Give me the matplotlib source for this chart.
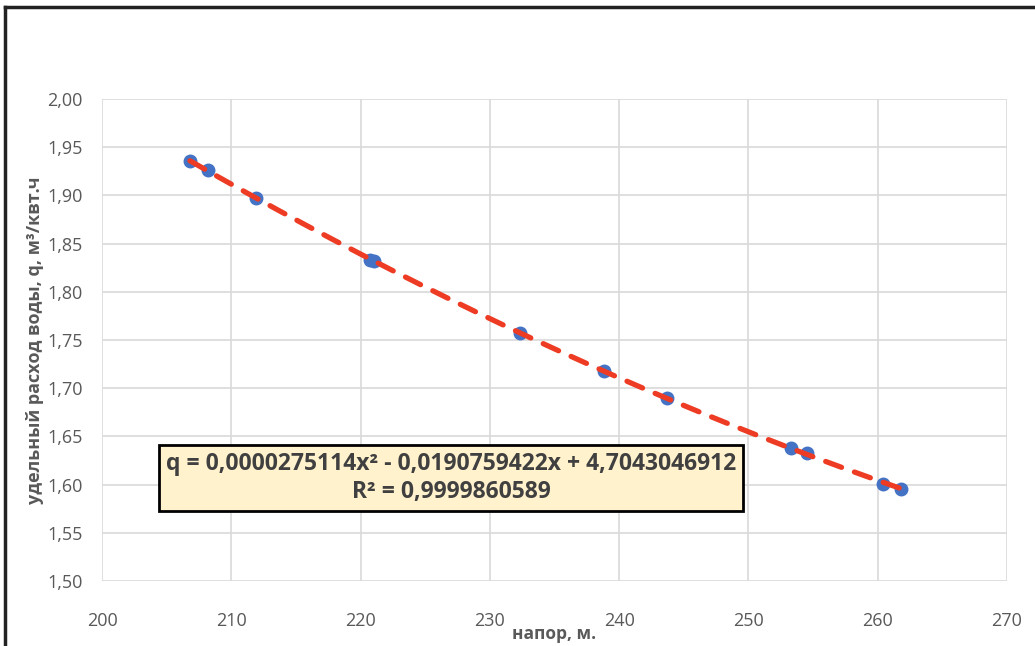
import matplotlib.pyplot as plt
import numpy as np

# measured points (head, m ; specific water flow, m3/kWh)
head = [206.8, 208.2, 211.9, 220.7, 221.0, 232.3, 238.8, 243.7, 253.3, 254.5, 260.4, 261.8]
flow = [1.936, 1.926, 1.897, 1.833, 1.832, 1.757, 1.718, 1.690, 1.638, 1.633, 1.601, 1.595]

# trendline coefficients as printed on the chart
coef = [0.0000275114, -0.0190759422, 4.7043046912]
r2_text = "0,9999860589"

x_ticks = list(range(200, 271, 10))
y_ticks = [1.50, 1.55, 1.60, 1.65, 1.70, 1.75, 1.80, 1.85, 1.90, 1.95, 2.00]

plt.rcParams['font.family'] = ['Open Sans', 'DejaVu Sans']

fig = plt.figure(figsize=(10.35, 6.46), dpi=100)
ax = fig.add_axes([0.0986, 0.1006, 0.8744, 0.7461])

# trendline
xs = np.linspace(min(head), max(head), 200)
ax.plot(xs, np.polyval(coef, xs), color='#EE3B24', lw=3.8, ls=(0, (3.2, 2.6)),
        dash_capstyle='round', zorder=3)
# data points
ax.plot(head, flow, 'o', color='#4472C4', ms=9, zorder=2)

ax.set_xlim(200, 270)
ax.set_ylim(1.50, 2.00)
ax.set_xticks(x_ticks)
ax.set_yticks(y_ticks)
ax.set_yticklabels([f"{v:.2f}".replace('.', ',') for v in y_ticks])
ax.grid(True, color='#d9d9d9', lw=1.2)
ax.set_axisbelow(True)
for s in ax.spines.values():
    s.set_visible(False)
ax.tick_params(length=0, labelsize=13, colors='#595959', pad=14)
ax.tick_params(axis='x', pad=22)

ax.set_xlabel("напор, м.", fontsize=12.5, fontweight='bold', color='#595959', labelpad=-3)
ax.set_ylabel("удельный расход воды, q, м³/квт.ч", fontsize=13, fontweight='bold',
              color='#595959', labelpad=2)

eq = ("q = " + f"{coef[0]:.10f}".replace('.', ',') + "x² - "
      + f"{-coef[1]:.10f}".replace('.', ',') + "x + "
      + f"{coef[2]:.10f}".replace('.', ',') + "\nR² = " + r2_text)
ax.text(0.386, 0.214, eq, transform=ax.transAxes, ha='center', va='center',
        fontsize=16.5, fontweight='bold', color='#404040', linespacing=1.2,
        bbox=dict(boxstyle='square,pad=0.3', fc='#FFF2CC', ec='black', lw=2))

# outer frame (left and top edges visible)
fig.add_artist(plt.Line2D([0.005, 0.005], [0, 0.989], color='#222222', lw=2.5))
fig.add_artist(plt.Line2D([0.005, 1.0], [0.989, 0.989], color='#222222', lw=2.5))

fig.savefig("out.png", dpi=100)
